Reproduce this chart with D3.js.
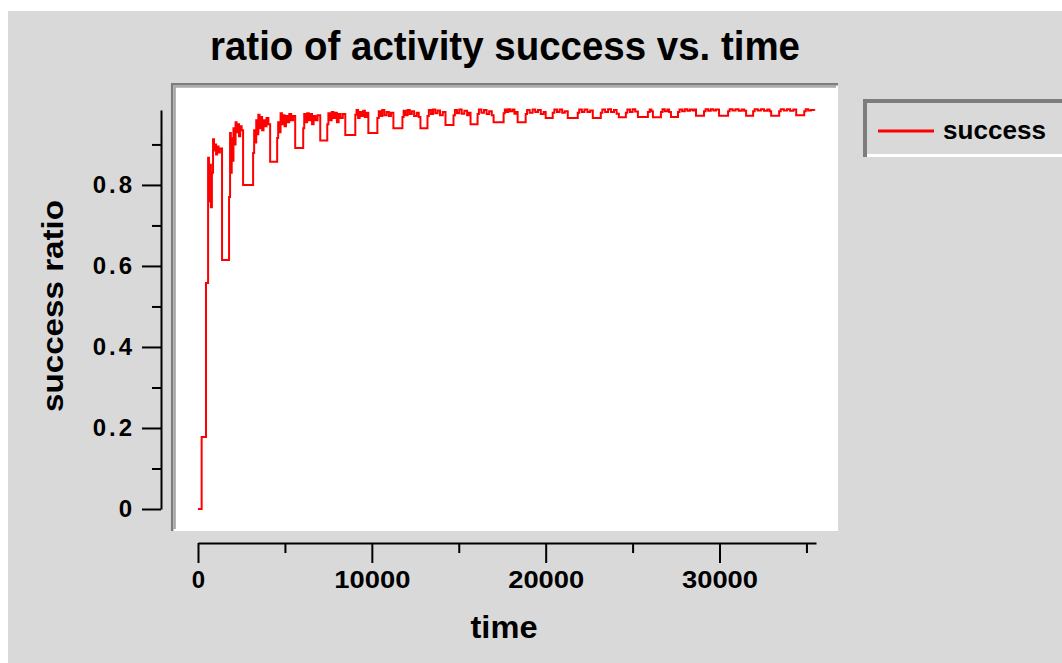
<!DOCTYPE html>
<html>
<head>
<meta charset="utf-8">
<script src="https://cdn.jsdelivr.net/npm/d3@7"></script>
<style>
  body { margin: 0; background: #fff; }
  svg { display: block; }
</style>
</head>
<body>
<div id="chart"></div>
<script>
// success ratio, [time, ratio], drawn as steps
const successPoints = [
  [0, 0], [210, 0.178], [460, 0.558], [580, 0.867], [630, 0.76], [690, 0.85], [740, 0.745], [800, 0.83],
  [865, 0.913], [920, 0.885], [980, 0.9], [1040, 0.875], [1100, 0.895], [1180, 0.88], [1260, 0.89],
  [1383, 0.615],
  [1787, 0.77], [1845, 0.928], [1890, 0.83], [1940, 0.915], [1990, 0.86], [2040, 0.94], [2100, 0.9],
  [2160, 0.955], [2220, 0.93], [2290, 0.95], [2360, 0.92], [2430, 0.945], [2510, 0.935],
  [2594, 0.80],
  [3170, 0.879], [3230, 0.935], [3290, 0.905], [3350, 0.96], [3410, 0.925], [3470, 0.973], [3540, 0.94],
  [3610, 0.968], [3690, 0.935], [3770, 0.96], [3850, 0.945], [3940, 0.965], [4050, 0.95],
  [4150, 0.857],
  [4554, 0.916], [4611, 0.955], [4680, 0.93], [4750, 0.977], [4830, 0.95], [4900, 0.972], [4980, 0.945],
  [5060, 0.97], [5150, 0.955], [5250, 0.975], [5360, 0.96], [5470, 0.97],
  [5591, 0.891],
  [6052, 0.94], [6110, 0.975], [6190, 0.955], [6280, 0.977], [6370, 0.96], [6460, 0.975], [6560, 0.95],
  [6650, 0.97], [6760, 0.96], [6880, 0.972],
  [7032, 0.91],
  [7436, 0.95], [7500, 0.977], [7590, 0.96], [7690, 0.98], [7790, 0.965], [7890, 0.978], [7990, 0.955],
  [8090, 0.975], [8200, 0.965], [8330, 0.975],
  [8473, 0.923],
  [9049, 0.973], [9120, 0.985], [9210, 0.965], [9300, 0.98], [9400, 0.97], [9500, 0.983], [9600, 0.968], [9700, 0.978],
  [9799, 0.928],
  [10318, 0.965], [10400, 0.982], [10500, 0.97], [10600, 0.985], [10720, 0.972], [10850, 0.98], [10980, 0.97], [11100, 0.978],
  [11240, 0.94],
  [11759, 0.968], [11830, 0.983], [11940, 0.972], [12060, 0.985], [12180, 0.975], [12300, 0.982], [12430, 0.97],
  [12580, 0.978], [12700, 0.968],
  [12796, 0.94],
  [13200, 0.97], [13280, 0.985], [13400, 0.975], [13520, 0.986], [13650, 0.977], [13780, 0.984], [13920, 0.972], [14080, 0.98],
  [14237, 0.948],
  [14698, 0.972], [14780, 0.985], [14900, 0.977], [15030, 0.986], [15170, 0.976], [15320, 0.983], [15480, 0.972], [15580, 0.978],
  [15678, 0.95],
  [16082, 0.975], [16160, 0.986], [16300, 0.978], [16450, 0.985], [16600, 0.975], [16750, 0.982], [16900, 0.972],
  [17004, 0.955],
  [17580, 0.977], [17650, 0.986], [17760, 0.98], [17850, 0.987], [17950, 0.982], [18080, 0.986], [18200, 0.976], [18300, 0.98],
  [18387, 0.955],
  [18848, 0.975], [18930, 0.985], [19080, 0.978], [19250, 0.986], [19400, 0.98], [19560, 0.985], [19720, 0.975], [19880, 0.98],
  [20001, 0.965],
  [20405, 0.978], [20500, 0.986], [20650, 0.98], [20800, 0.986], [20950, 0.978], [21100, 0.982],
  [21269, 0.965],
  [21845, 0.978], [21930, 0.986], [22080, 0.98], [22230, 0.986], [22400, 0.98], [22560, 0.984],
  [22710, 0.965],
  [23171, 0.978], [23260, 0.986], [23420, 0.98], [23590, 0.987], [23760, 0.98], [23930, 0.985], [24080, 0.976],
  [24209, 0.967],
  [24612, 0.978], [24700, 0.986], [24850, 0.98], [25000, 0.987], [25150, 0.981],
  [25304, 0.968],
  [25880, 0.98], [25980, 0.986], [26080, 0.982],
  [26168, 0.967],
  [26629, 0.98], [26720, 0.987], [26850, 0.982], [27000, 0.986], [27100, 0.98],
  [27206, 0.968],
  [27610, 0.98], [27700, 0.986], [27850, 0.982], [28000, 0.987], [28150, 0.983], [28300, 0.986], [28450, 0.984], [28560, 0.986],
  [28647, 0.971],
  [29108, 0.982], [29200, 0.987], [29350, 0.983], [29500, 0.987], [29650, 0.984], [29800, 0.986],
  [29973, 0.971],
  [30492, 0.982], [30580, 0.987], [30750, 0.984], [30920, 0.987], [31100, 0.983], [31280, 0.986], [31420, 0.983],
  [31529, 0.971],
  [31933, 0.982], [32020, 0.987], [32200, 0.984], [32380, 0.987], [32560, 0.983], [32750, 0.986], [32880, 0.982],
  [32970, 0.971],
  [33431, 0.982], [33520, 0.987], [33700, 0.984], [33880, 0.987], [34060, 0.983], [34250, 0.986],
  [34411, 0.972],
  [34872, 0.982], [34960, 0.987], [35100, 0.984], [35250, 0.985], [35449, 0.983]
]

const xTicks = [0, 10000, 20000, 30000]
const xMinorTicks = [5000, 15000, 25000, 35000]
const yTicks = [0, 0.2, 0.4, 0.6, 0.8]
const yMinorTicks = [0.1, 0.3, 0.5, 0.7, 0.9]
const yTickLabels = ["0", "0.2", "0.4", "0.6", "0.8"]
const legendLabels = ["success"]

const titleText = "ratio of activity success vs. time"
const xTitle = "time"
const yTitle = "success ratio"

const font = "'Liberation Sans', Arial, sans-serif"
const bg = "#d9d9d9"

const svg = d3.select("#chart").append("svg")
  .attr("width", 1062)
  .attr("height", 663)

// grey window area, white strip at top and left
svg.append("rect")
  .attr("x", 8).attr("y", 11)
  .attr("width", 1062 - 8).attr("height", 663 - 11)
  .attr("fill", bg)

const xScale = d3.scaleLinear().domain([0, 35550]).range([198, 816])
const yScale = d3.scaleLinear().domain([0, 0.985]).range([509, 110])

// plot panel, sunken look
const panel = { x0: 171, y0: 83, x1: 838, y1: 531 }
svg.append("rect")
  .attr("x", panel.x0).attr("y", panel.y0)
  .attr("width", panel.x1 - panel.x0).attr("height", panel.y1 - panel.y0)
  .attr("fill", "#fff")
svg.append("path")
  .attr("d", `M${panel.x0 + 1.2},${panel.y1} V${panel.y0 + 1.2} H${panel.x1}`)
  .attr("fill", "none").attr("stroke", "#7d7d7d").attr("stroke-width", 2.5)
svg.append("path")
  .attr("d", `M${panel.x0 + 3.6},${panel.y1 - 2} V${panel.y0 + 3.6} H${panel.x1 - 2}`)
  .attr("fill", "none").attr("stroke", "#a9a9a9").attr("stroke-width", 2.5)

// clip the series to the white area
svg.append("clipPath").attr("id", "plot-clip")
  .append("rect")
  .attr("x", panel.x0 + 5).attr("y", panel.y0 + 5)
  .attr("width", panel.x1 - panel.x0 - 5).attr("height", panel.y1 - panel.y0 - 5)

const line = d3.line()
  .x(d => xScale(d[0]))
  .y(d => yScale(d[1]))
  .curve(d3.curveStepAfter)

svg.append("path")
  .datum(successPoints)
  .attr("clip-path", "url(#plot-clip)")
  .attr("d", line)
  .attr("fill", "none")
  .attr("stroke", "#ff0000")
  .attr("stroke-width", 2)

// y axis
const yAxis = svg.append("g")
  .attr("transform", "translate(161,0)")
  .call(d3.axisLeft(yScale).tickValues(yTicks).tickSize(19).tickSizeOuter(0).tickPadding(10)
    .tickFormat((d, i) => yTickLabels[i]))
svg.append("g")
  .attr("transform", "translate(161,0)")
  .call(d3.axisLeft(yScale).tickValues(yMinorTicks).tickSize(9).tickSizeOuter(0).tickFormat(""))
  .select(".domain").remove()

// x axis
const xAxis = svg.append("g")
  .attr("transform", "translate(0,543)")
  .call(d3.axisBottom(xScale).tickValues(xTicks).tickSize(20).tickSizeOuter(0).tickFormat(d3.format("d")))
svg.append("g")
  .attr("transform", "translate(0,543)")
  .call(d3.axisBottom(xScale).tickValues(xMinorTicks).tickSize(10).tickSizeOuter(0).tickFormat(""))
  .select(".domain").remove()

svg.selectAll(".domain, .tick line")
  .attr("stroke", "#000")
  .attr("stroke-width", 2)

yAxis.selectAll("text")
  .attr("font-family", font).attr("font-weight", "bold").attr("font-size", 24)
  .attr("fill", "#000")
  .attr("letter-spacing", 3)
  .attr("dx", 3)

xAxis.selectAll("text")
  .attr("font-family", font).attr("font-weight", "bold").attr("font-size", 24)
  .attr("fill", "#000")
  .attr("y", 45).attr("dy", 0)
  .each(function (d) {
    const s = String(d)
    if (s.length > 1) d3.select(this).attr("textLength", 76).attr("lengthAdjust", "spacingAndGlyphs")
  })

// titles
svg.append("text")
  .attr("x", 505).attr("y", 60)
  .attr("text-anchor", "middle")
  .attr("font-family", font).attr("font-weight", "bold").attr("font-size", 40)
  .attr("textLength", 590).attr("lengthAdjust", "spacingAndGlyphs")
  .text(titleText)

svg.append("text")
  .attr("x", 504).attr("y", 638)
  .attr("text-anchor", "middle")
  .attr("font-family", font).attr("font-weight", "bold").attr("font-size", 32)
  .attr("textLength", 67).attr("lengthAdjust", "spacingAndGlyphs")
  .text(xTitle)

svg.append("text")
  .attr("transform", "translate(63,306) rotate(-90)")
  .attr("text-anchor", "middle")
  .attr("font-family", font).attr("font-weight", "bold").attr("font-size", 30)
  .attr("textLength", 212).attr("lengthAdjust", "spacingAndGlyphs")
  .text(yTitle)

// legend box, cut off by the right edge
const legend = svg.append("g")
legend.append("rect")
  .attr("x", 863).attr("y", 99).attr("width", 220).attr("height", 58)
  .attr("fill", bg)
legend.append("path")
  .attr("d", "M865,157 V101 H1070")
  .attr("fill", "none").attr("stroke", "#7d7d7d").attr("stroke-width", 4)
legend.append("path")
  .attr("d", "M867,155.5 H1070")
  .attr("fill", "none").attr("stroke", "#fff").attr("stroke-width", 3)

legendLabels.forEach((label, i) => {
  const y = 131 + i * 30
  legend.append("line")
    .attr("x1", 878).attr("x2", 934).attr("y1", y).attr("y2", y)
    .attr("stroke", "#ff0000").attr("stroke-width", 3)
  legend.append("text")
    .attr("x", 943).attr("y", y + 8)
    .attr("font-family", font).attr("font-weight", "bold").attr("font-size", 26)
    .attr("textLength", 103).attr("lengthAdjust", "spacingAndGlyphs")
    .text(label)
})
</script>
</body>
</html>
